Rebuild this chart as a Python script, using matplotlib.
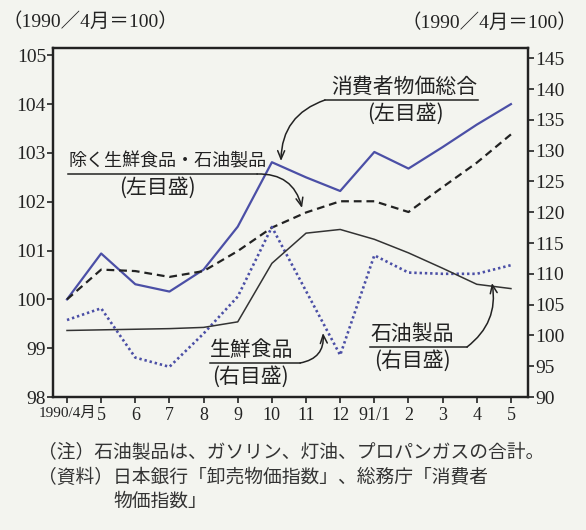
#plot.py 物価指数の推移（1990年4月＝100）
import numpy as np
import matplotlib.pyplot as plt
from matplotlib.patches import FancyArrowPatch

# 月のラベル
months = ['1990/4月', '5', '6', '7', '8', '9', '10', '11', '12', '91/1', '2', '3', '4', '5']

# 左目盛
cpi_total = [100.0, 100.94, 100.31, 100.16, 100.61, 101.49, 102.81, 102.5, 102.22,
             103.02, 102.68, 103.12, 103.58, 104.0]
cpi_core = [100.0, 100.61, 100.58, 100.46, 100.58, 100.99, 101.47, 101.78, 102.01,
            102.01, 101.79, 102.3, 102.8, 103.38]

# 右目盛
fresh_food = [102.5, 104.4, 96.4, 94.9, 100.3, 106.3, 117.6, 107.2, 96.8,
              113.0, 110.2, 110.0, 110.0, 111.4]
oil_products = [100.8, 100.9, 101.0, 101.1, 101.3, 102.2, 111.7, 116.6, 117.2,
                115.6, 113.4, 110.9, 108.3, 107.6]

W, H = 586, 530
bg = '#f3f4ef'
ink = '#222222'
blue = '#4b4fa6'
jp = ['Noto Sans CJK JP', 'DejaVu Sans']
num = ['Liberation Serif', 'Noto Sans CJK JP']


def px(x, y):
    # 画像のピクセル位置 -> figure座標
    return (x / W, 1 - y / H)


fig = plt.figure(figsize=(W / 100, H / 100), dpi=100, facecolor=bg)
ax = fig.add_axes([53 / W, 1 - 397 / H, (528 - 53) / W, (397 - 48) / H])
ax.set_facecolor(bg)
ax2 = ax.twinx()

x = np.arange(len(months))

ax.plot(x, cpi_total, color=blue, lw=1.6, zorder=3)
ax.plot(x, cpi_core, color=ink, lw=1.6, linestyle=(0, (3.5, 2.2)), zorder=3)
ax2.plot(x, fresh_food, color=blue, lw=1.9, linestyle=(0, (0.9, 1.1)), zorder=3)
ax2.plot(x, oil_products, color='#333333', lw=1.1, zorder=3)

ax.set_xlim(-0.41, 13.5)
ax.set_ylim(98, 105.15)
ax2.set_ylim(90, 146.66)

ax.set_xticks(x)
ax.set_xticklabels(months, family=num, fontsize=13, color=ink)
ax.get_xticklabels()[0].set_fontsize(11)
ax.set_yticks(range(98, 106))
ax.set_yticklabels([str(v) for v in range(98, 106)], family=num, fontsize=14, color=ink)
ax2.set_yticks(range(90, 146, 5))
ax2.set_yticklabels([str(v) for v in range(90, 146, 5)], family=num, fontsize=14, color=ink)

for a in (ax, ax2):
    a.tick_params(direction='out', length=4, width=1.2, color=ink, pad=1)
    for s in a.spines.values():
        s.set_linewidth(1.6)
        s.set_color(ink)
ax.tick_params(axis='x', pad=3)

# 目盛の単位
fig.text(*px(2, 22), '（1990／4月＝100）', family=num, fontsize=14, color=ink, va='center', ha='left')
fig.text(*px(577, 23), '（1990／4月＝100）', family=num, fontsize=14, color=ink, va='center', ha='right')


# 系列の説明（下線と曲がった矢印）
def label(text, sub, tx, ty, line_start, line_end, tip, rad, size=15, sub_x=None):
    fig.text(*px(tx, ty), text, family=jp, fontsize=size, color=ink, va='center', ha='left')
    fig.text(*px(sub_x, ty + 27), sub, family=jp, fontsize=15, color=ink, va='center', ha='center')
    fig.lines.append(plt.Line2D([line_start / W, line_end[0] / W], [1 - line_end[1] / H] * 2,
                                transform=fig.transFigure, color=ink, lw=1.1))
    arr = FancyArrowPatch(px(*line_end), px(*tip), transform=fig.transFigure,
                          connectionstyle=f'arc3,rad={rad}', arrowstyle='->,head_length=6,head_width=2.5',
                          color=ink, lw=1.1, shrinkA=0, shrinkB=0)
    fig.patches.append(arr)


label('消費者物価総合', '(左目盛)', 331, 87, 478, (325, 100), (281, 161), 0.35, size=15, sub_x=405)
label('除く生鮮食品・石油製品', '(左目盛)', 68, 161, 68, (257, 174), (302, 208), -0.4, size=13, sub_x=157)
label('生鮮食品', '(右目盛)', 210, 350, 210, (300, 363), (323, 333), 0.45, size=15, sub_x=250)
label('石油製品', '(右目盛)', 370, 334, 370, (467, 347), (492, 283), 0.3, size=15, sub_x=412)

# 注と資料
fig.text(*px(38, 453), '（注）石油製品は、ガソリン、灯油、プロパンガスの合計。',
         family=jp, fontsize=13.5, color='#333333', va='center')
fig.text(*px(38, 477), '（資料）日本銀行「卸売物価指数」、総務庁「消費者',
         family=jp, fontsize=13.5, color='#333333', va='center')
fig.text(*px(113, 501), '物価指数」', family=jp, fontsize=13.5, color='#333333', va='center')

plt.savefig('out.png', dpi=100, facecolor=bg)
